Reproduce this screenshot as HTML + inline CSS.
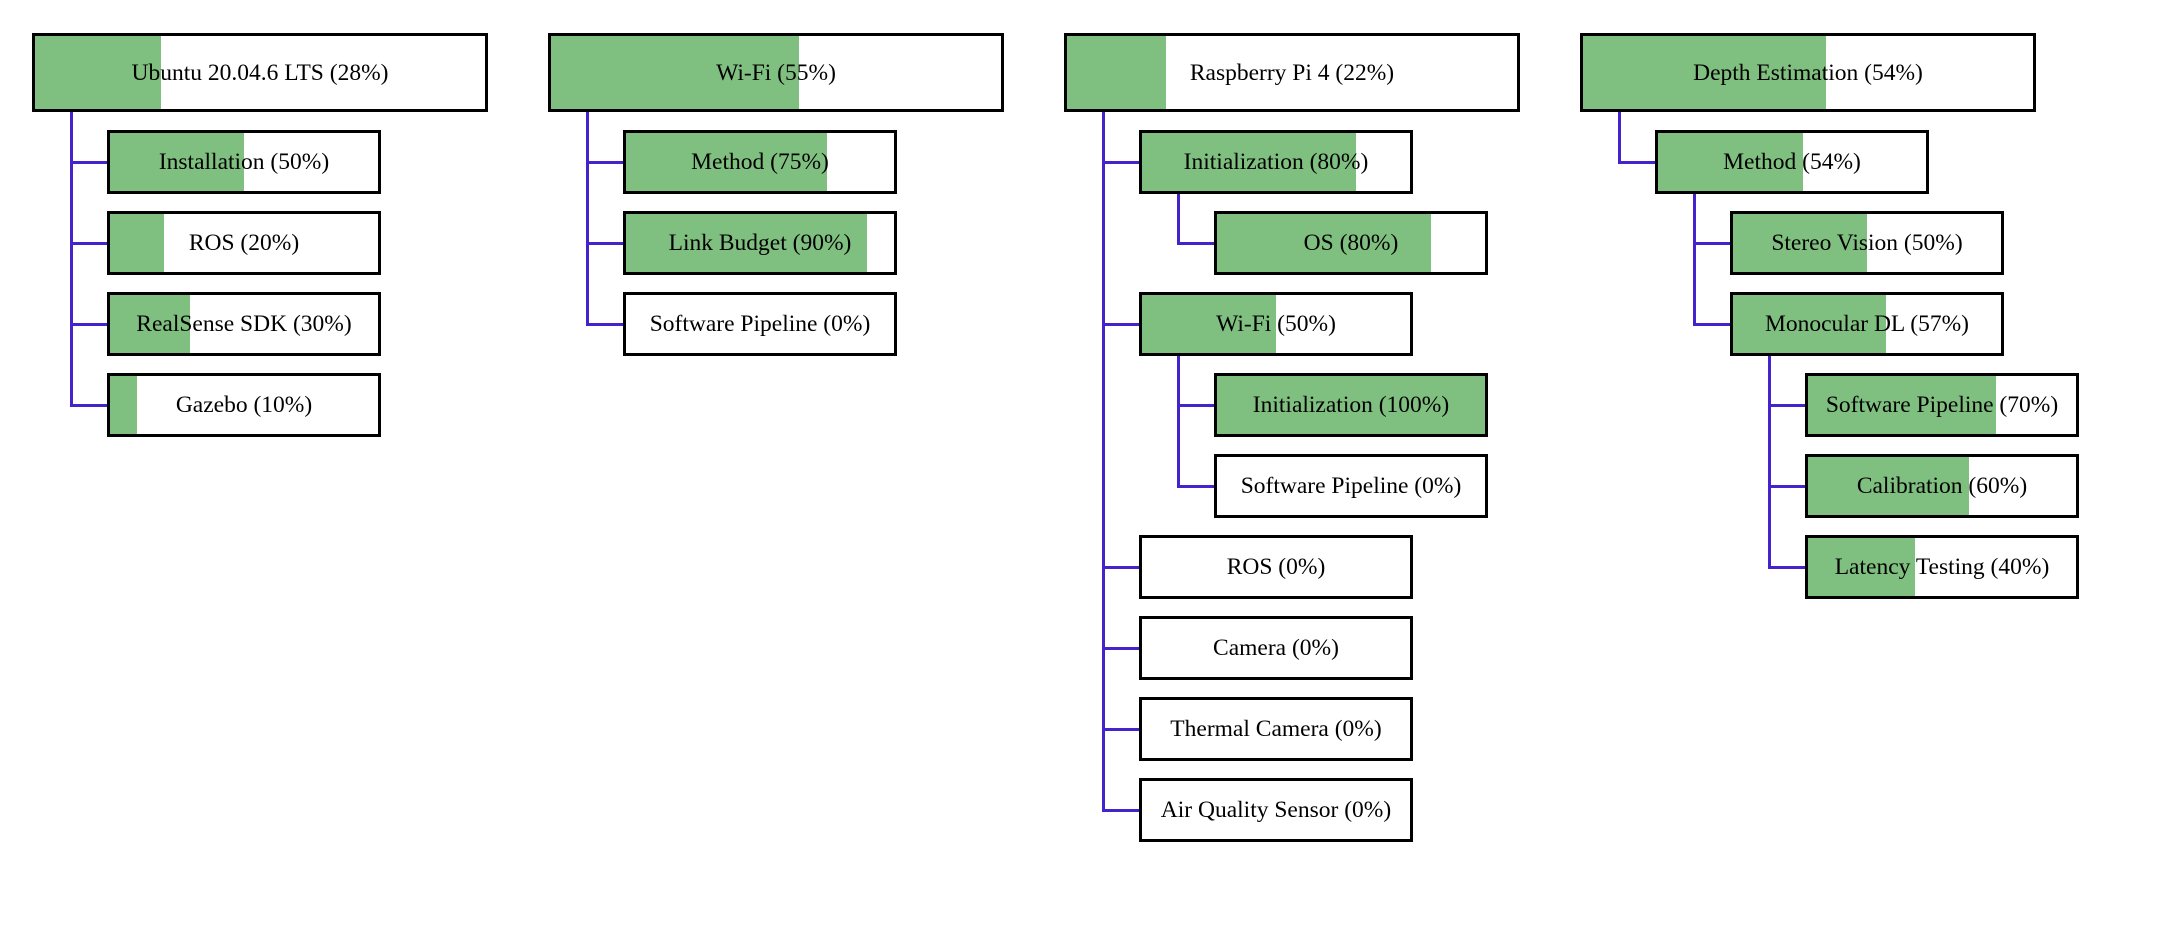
<!DOCTYPE html>
<html><head><meta charset="utf-8"><style>
body{margin:0;width:2166px;height:941px;background:#fff;position:relative;overflow:hidden;font-family:"Liberation Serif",serif;}
.b{position:absolute;border:3px solid #000;box-sizing:border-box;background:#fff;width:274px;height:64px;}
.r{width:456px;height:79px;}
.g{position:absolute;left:0;top:0;bottom:0;background:#7fbf7f;}
.t{position:absolute;left:0;right:0;top:1px;bottom:0;display:flex;align-items:center;justify-content:center;font-size:23.5px;color:#000;white-space:nowrap;}
.v,.h{position:absolute;background:#4422cc;}
.v{width:3px;}
.h{height:3px;}
</style></head><body>
<!-- Column 0 -->
<div class="v" style="left:70px;top:112px;height:294px"></div>
<div class="h" style="left:70px;top:161px;width:38px"></div>
<div class="h" style="left:70px;top:242px;width:38px"></div>
<div class="h" style="left:70px;top:323px;width:38px"></div>
<div class="h" style="left:70px;top:404px;width:38px"></div>
<div class="b r" style="left:32px;top:33px"><div class="g" style="width:28%"></div><div class="t">Ubuntu 20.04.6 LTS (28%)</div></div>
<div class="b" style="left:107px;top:130px"><div class="g" style="width:50%"></div><div class="t">Installation (50%)</div></div>
<div class="b" style="left:107px;top:211px"><div class="g" style="width:20%"></div><div class="t">ROS (20%)</div></div>
<div class="b" style="left:107px;top:292px"><div class="g" style="width:30%"></div><div class="t">RealSense SDK (30%)</div></div>
<div class="b" style="left:107px;top:373px"><div class="g" style="width:10%"></div><div class="t">Gazebo (10%)</div></div>

<!-- Column 1 -->
<div class="v" style="left:586px;top:112px;height:213px"></div>
<div class="h" style="left:586px;top:161px;width:38px"></div>
<div class="h" style="left:586px;top:242px;width:38px"></div>
<div class="h" style="left:586px;top:323px;width:38px"></div>
<div class="b r" style="left:548px;top:33px"><div class="g" style="width:55%"></div><div class="t">Wi-Fi (55%)</div></div>
<div class="b" style="left:623px;top:130px"><div class="g" style="width:75%"></div><div class="t">Method (75%)</div></div>
<div class="b" style="left:623px;top:211px"><div class="g" style="width:90%"></div><div class="t">Link Budget (90%)</div></div>
<div class="b" style="left:623px;top:292px"><div class="t">Software Pipeline (0%)</div></div>

<!-- Column 2 -->
<div class="v" style="left:1102px;top:112px;height:699px"></div>
<div class="h" style="left:1102px;top:161px;width:38px"></div>
<div class="h" style="left:1102px;top:323px;width:38px"></div>
<div class="h" style="left:1102px;top:566px;width:38px"></div>
<div class="h" style="left:1102px;top:647px;width:38px"></div>
<div class="h" style="left:1102px;top:728px;width:38px"></div>
<div class="h" style="left:1102px;top:809px;width:38px"></div>
<div class="v" style="left:1177px;top:193px;height:52px"></div>
<div class="h" style="left:1177px;top:242px;width:38px"></div>
<div class="v" style="left:1177px;top:355px;height:133px"></div>
<div class="h" style="left:1177px;top:404px;width:38px"></div>
<div class="h" style="left:1177px;top:485px;width:38px"></div>
<div class="b r" style="left:1064px;top:33px"><div class="g" style="width:22%"></div><div class="t">Raspberry Pi 4 (22%)</div></div>
<div class="b" style="left:1139px;top:130px"><div class="g" style="width:80%"></div><div class="t">Initialization (80%)</div></div>
<div class="b" style="left:1214px;top:211px"><div class="g" style="width:80%"></div><div class="t">OS (80%)</div></div>
<div class="b" style="left:1139px;top:292px"><div class="g" style="width:50%"></div><div class="t">Wi-Fi (50%)</div></div>
<div class="b" style="left:1214px;top:373px"><div class="g" style="width:100%"></div><div class="t">Initialization (100%)</div></div>
<div class="b" style="left:1214px;top:454px"><div class="t">Software Pipeline (0%)</div></div>
<div class="b" style="left:1139px;top:535px"><div class="t">ROS (0%)</div></div>
<div class="b" style="left:1139px;top:616px"><div class="t">Camera (0%)</div></div>
<div class="b" style="left:1139px;top:697px"><div class="t">Thermal Camera (0%)</div></div>
<div class="b" style="left:1139px;top:778px"><div class="t">Air Quality Sensor (0%)</div></div>

<!-- Column 3 -->
<div class="v" style="left:1618px;top:112px;height:51px"></div>
<div class="h" style="left:1618px;top:161px;width:38px"></div>
<div class="v" style="left:1693px;top:193px;height:133px"></div>
<div class="h" style="left:1693px;top:242px;width:38px"></div>
<div class="h" style="left:1693px;top:323px;width:38px"></div>
<div class="v" style="left:1768px;top:355px;height:214px"></div>
<div class="h" style="left:1768px;top:404px;width:38px"></div>
<div class="h" style="left:1768px;top:485px;width:38px"></div>
<div class="h" style="left:1768px;top:566px;width:38px"></div>
<div class="b r" style="left:1580px;top:33px"><div class="g" style="width:54%"></div><div class="t">Depth Estimation (54%)</div></div>
<div class="b" style="left:1655px;top:130px"><div class="g" style="width:54%"></div><div class="t">Method (54%)</div></div>
<div class="b" style="left:1730px;top:211px"><div class="g" style="width:50%"></div><div class="t">Stereo Vision (50%)</div></div>
<div class="b" style="left:1730px;top:292px"><div class="g" style="width:57%"></div><div class="t">Monocular DL (57%)</div></div>
<div class="b" style="left:1805px;top:373px"><div class="g" style="width:70%"></div><div class="t">Software Pipeline (70%)</div></div>
<div class="b" style="left:1805px;top:454px"><div class="g" style="width:60%"></div><div class="t">Calibration (60%)</div></div>
<div class="b" style="left:1805px;top:535px"><div class="g" style="width:40%"></div><div class="t">Latency Testing (40%)</div></div>
</body></html>
